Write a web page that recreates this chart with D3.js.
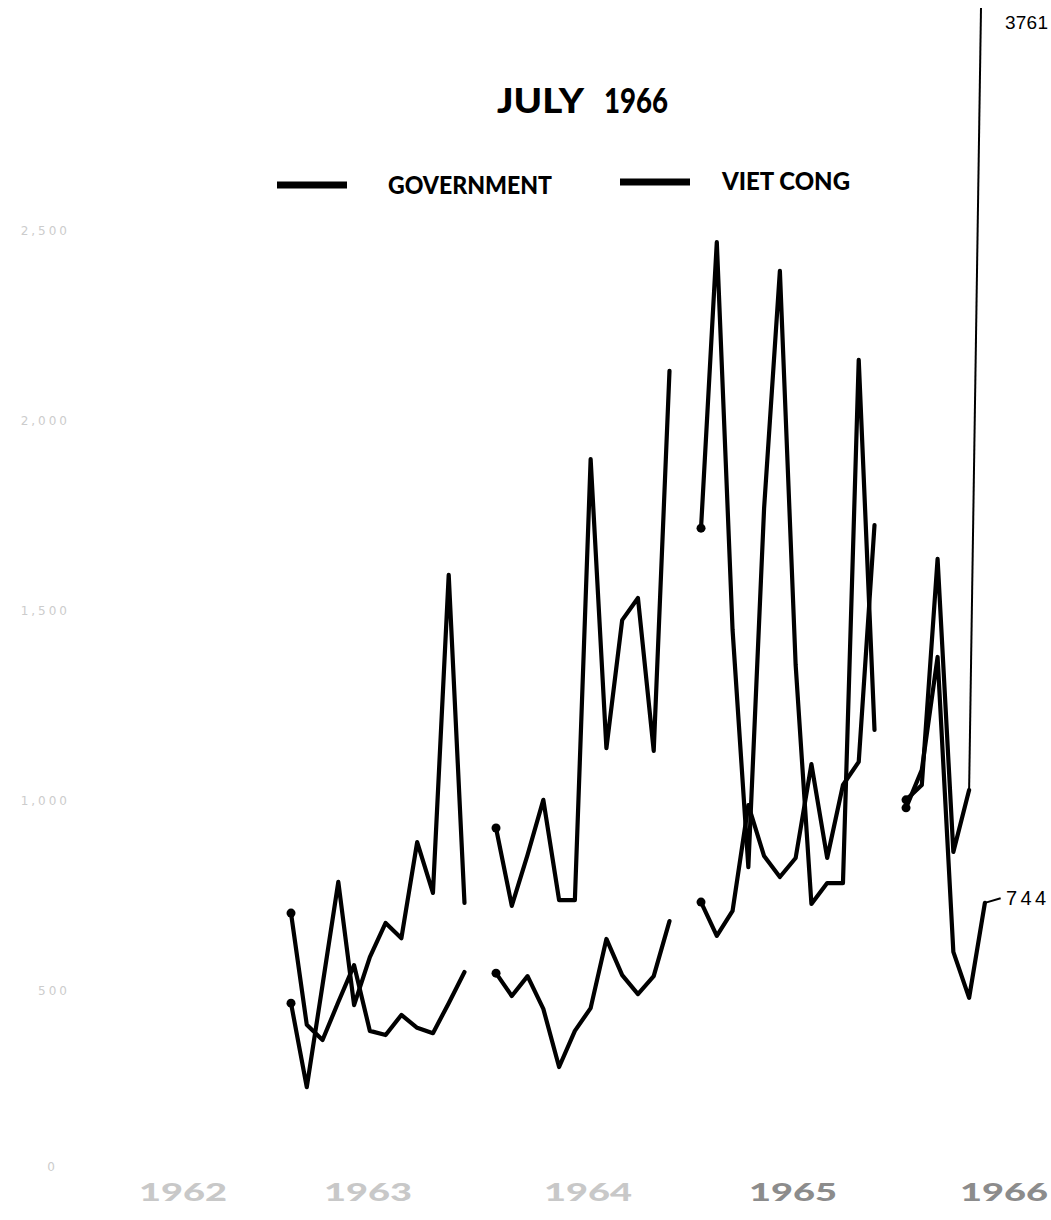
<!DOCTYPE html>
<html>
<head>
<meta charset="utf-8">
<script src="https://cdn.jsdelivr.net/npm/d3@7"></script>
<style>
  body { margin: 0; background: #fff; }
  svg { display: block; }
  .line { fill: none; stroke: #000; stroke-width: 4.2; stroke-linejoin: round; stroke-linecap: round; }
  .thin { fill: none; stroke: #000; stroke-width: 2; }
</style>
</head>
<body>
<svg id="chart"></svg>
<script>
const W = 1051, H = 1220

// monthly values, one array per year (Jan..Dec, 1966 Jan..Jul)
const years = [1962, 1963, 1964, 1965, 1966]
const yearColors = ["#c8c8c8", "#c8c8c8", "#c8c8c8", "#8c8c8c", "#8c8c8c"]

const vc1963  = [468, 247, 516, 787, 463, 589, 679, 639, 892, 758, 1595, 732]
const gov1963 = [705, 411, 371, 471, 568, 395, 384, 437, 403, 389, 468, 550]
const vc1964  = [929, 724, 858, 1003, 739, 739, 1900, 1139, 1476, 1534, 1132, 2132]
const gov1964 = [547, 487, 539, 453, 300, 395, 455, 637, 542, 492, 539, 684]
const vc1965  = [1718, 2471, 1450, 826, 1771, 2395, 1358, 729, 784, 784, 2161, 1187]
const gov1965 = [734, 645, 711, 989, 855, 800, 850, 1097, 850, 1042, 1103, 1726]
const vc1966  = [1003, 1042, 1637, 866, 1029, 3761]
const gov1966 = [982, 1082, 1379, 603, 482, 732, 744]

const yTicks = [0, 500, 1000, 1500, 2000, 2500]
const yTickLabels = ["0", "500", "1,000", "1,500", "2,000", "2,500"]

const svg = d3.select("#chart").attr("width", W).attr("height", H)
svg.append("rect").attr("width", W).attr("height", H).attr("fill", "#fff")

// 13 slots per year: 12 months + one blank gap
const slot = (year, m) => (year - 1962) * 13 + m
const x = d3.scaleLinear().domain([0, 58]).range([86, 86 + 58 * 15.77])
const y = d3.scaleLinear().domain([0, 2500]).range([1181, 231])

svg.append("defs").append("clipPath").attr("id", "plot")
  .append("rect").attr("x", 0).attr("y", 8).attr("width", W).attr("height", H - 8)

const line = d3.line().x(d => x(d.s)).y(d => y(d.v))

function series(year, vals) {
  return vals.map((v, i) => ({ s: slot(year, i), v }))
}

const runs = [
  [1963, vc1963], [1963, gov1963],
  [1964, vc1964], [1964, gov1964],
  [1965, vc1965], [1965, gov1965],
  [1966, vc1966], [1966, gov1966]
]

const g = svg.append("g").attr("clip-path", "url(#plot)")

runs.forEach(([year, vals]) => {
  const pts = series(year, vals)
  if (year === 1966) {
    // latest month drawn thin
    g.append("path").attr("class", "line").attr("d", line(pts.slice(0, -1)))
    g.append("path").attr("class", "thin").attr("d", line(pts.slice(-2)))
  } else {
    g.append("path").attr("class", "line").attr("d", line(pts))
  }
  g.append("circle").attr("cx", x(pts[0].s)).attr("cy", y(pts[0].v)).attr("r", 4.5)
})

// end labels
svg.append("text").attr("x", 1005).attr("y", 29)
  .attr("font-family", "Liberation Sans, Arial").attr("font-size", 19)
  .attr("textLength", 43).text("3761")
svg.append("text").attr("x", 1006).attr("y", 905)
  .attr("font-family", "Liberation Sans, Arial").attr("font-size", 20)
  .attr("textLength", 40).text("744")

// title + legend
const titleFont = "Lato, Open Sans"
svg.append("text").attr("x", 497).attr("y", 113)
  .attr("font-family", titleFont).attr("font-weight", 900).attr("font-size", 34)
  .attr("textLength", 87).attr("lengthAdjust", "spacingAndGlyphs").text("JULY")
svg.append("text").attr("x", 604).attr("y", 113)
  .attr("font-family", titleFont).attr("font-weight", 900).attr("font-size", 34)
  .attr("textLength", 64).attr("lengthAdjust", "spacingAndGlyphs").text("1966")

const legend = [
  { name: "GOVERNMENT", x1: 277, x2: 347, ly: 185, tx: 388, ty: 194, tl: 164 },
  { name: "VIET CONG",  x1: 620, x2: 690, ly: 182, tx: 722, ty: 190, tl: 128 }
]
legend.forEach(d => {
  svg.append("line").attr("x1", d.x1).attr("x2", d.x2).attr("y1", d.ly).attr("y2", d.ly)
    .attr("stroke", "#000").attr("stroke-width", 7)
  svg.append("text").attr("x", d.tx).attr("y", d.ty)
    .attr("font-family", titleFont).attr("font-weight", 900).attr("font-size", 24)
    .attr("textLength", d.tl).attr("lengthAdjust", "spacingAndGlyphs").text(d.name)
})

// faint y labels (scan-faded)
svg.append("g").selectAll("text").data(yTicks).enter().append("text")
  .attr("x", (d, i) => i === 0 ? 58 : 70).attr("y", (d, i) => i === 0 ? 1171 : y(d) + 4)
  .attr("text-anchor", "end").attr("font-family", "DejaVu Sans").attr("font-size", 12)
  .attr("fill", "#cccccc").attr("letter-spacing", 3)
  .text((d, i) => yTickLabels[i])

// year labels
const yearCenters = [183, 368, 588, 793, 1004]
svg.append("g").selectAll("text").data(years).enter().append("text")
  .attr("x", (d, i) => yearCenters[i] - 44).attr("y", 1201)
  .attr("font-family", titleFont).attr("font-weight", 900)
  .attr("font-size", 24).attr("fill", (d, i) => yearColors[i])
  .attr("textLength", 88).attr("lengthAdjust", "spacingAndGlyphs")
  .text(d => d)
</script>
</body>
</html>
